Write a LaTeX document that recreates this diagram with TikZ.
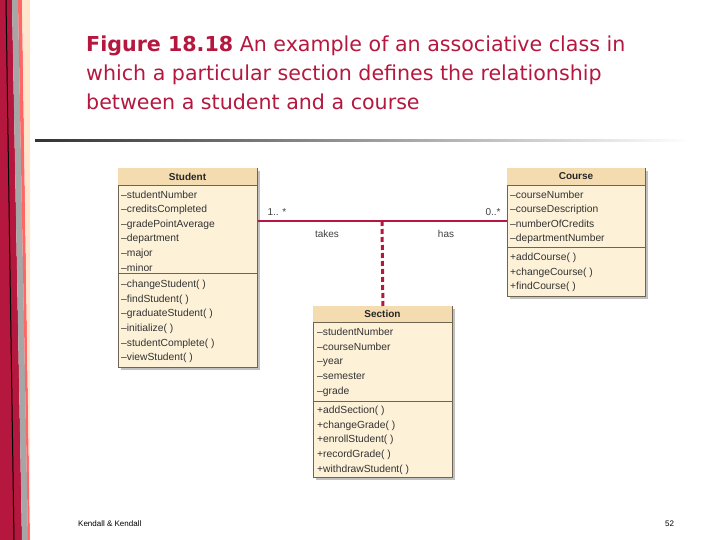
\documentclass[tikz,border=0pt]{standalone}
\usepackage{fontspec}
\setmainfont{Liberation Sans}
\newfontfamily\titlefont{DejaVu Sans}
\usetikzlibrary{shadows}
\definecolor{crim}{HTML}{B5173F}
\definecolor{cream}{HTML}{FDF1D8}
\definecolor{tan}{HTML}{F4DCB0}
\definecolor{edge}{HTML}{6E6452}
\begin{document}
\begin{tikzpicture}[x=1pt,y=-1pt,
  cls/.style={draw=edge,fill=cream,line width=0.8pt,anchor=north west,inner sep=0pt,
    drop shadow={shadow xshift=2.5pt,shadow yshift=-2.5pt,fill=gray!60,opacity=0.8}},
  row/.style={anchor=base west,inner sep=0pt,font=\fontsize{10.3}{11}\selectfont,text=black!80},
  ttl/.style={font=\bfseries\fontsize{10}{11}\selectfont,text=black!85},
  lbl/.style={font=\fontsize{10}{11}\selectfont,text=black!75}]
\useasboundingbox (0,0) rectangle (720,540);
% left decoration
\fill[crim] (0,0) -- (12,0) -- (22,540) -- (0,540) -- cycle;
\fill[gray!70] (12,0) -- (18,0) -- (28,540) -- (22,540) -- cycle;
\fill[red!60] (18,0) -- (22,0) -- (30,540) -- (28,540) -- cycle;
\fill[orange!20] (22,0) -- (30,0) -- (30,540) -- cycle;
\draw[black,line width=1pt] (6,0) -- (14,540);
% title
\node[anchor=north west,align=left,text=crim,inner sep=0pt,font=\titlefont\fontsize{20.6}{29}\selectfont] (title) at (86,36)
 {\textbf{Figure 18.18} An example of an associative class in\\which a particular section defines the relationship\\between a student and a course};
\shade[left color=black!80,right color=white] (35,139.5) rectangle (690,142);
% Student
\node[cls,minimum width=139pt,minimum height=199pt] (stu) at (118,168) {};
\fill[tan] (118.4,168.4) rectangle (256.6,185);
\draw[edge,line width=0.6pt] (118,185) -- (257,185) (118,273) -- (257,273);
\node[ttl] at (187.5,176.5) {Student};
\foreach \t [count=\i] in {studentNumber,creditsCompleted,gradePointAverage,department,major,minor}
  \node[row] at (121,183.5+\i*14.6) {--\t};
\foreach \t [count=\i] in {changeStudent( ),findStudent( ),graduateStudent( ),initialize( ),studentComplete( ),viewStudent( )}
  \node[row] at (121,273+\i*14.6) {--\t};
% Course
\node[cls,minimum width=138pt,minimum height=128pt] (crs) at (507,168) {};
\fill[tan] (507.4,168.4) rectangle (644.6,185);
\draw[edge,line width=0.6pt] (507,185) -- (645,185) (507,247) -- (645,247);
\node[ttl] at (576,176.5) {Course};
\foreach \t [count=\i] in {courseNumber,courseDescription,numberOfCredits,departmentNumber}
  \node[row] at (510,183.5+\i*14.6) {--\t};
\foreach \t [count=\i] in {addCourse( ),changeCourse( ),findCourse( )}
  \node[row] at (510,246+\i*14.6) {+\t};
% Section
\node[cls,minimum width=139pt,minimum height=171pt] (sec) at (313,306) {};
\fill[tan] (313.4,306.4) rectangle (451.6,322);
\draw[edge,line width=0.6pt] (313,322) -- (452,322) (313,401) -- (452,401);
\node[ttl] at (382.5,314) {Section};
\foreach \t [count=\i] in {studentNumber,courseNumber,year,semester,grade}
  \node[row] at (317,321+\i*14.6) {--\t};
\foreach \t [count=\i] in {addSection( ),changeGrade( ),enrollStudent( ),recordGrade( ),withdrawStudent( )}
  \node[row] at (317,399+\i*14.6) {+\t};
% association
\coordinate (mid) at (382,221);
\draw[crim,line width=2pt] (stu.north east |- mid) -- (crs.west |- mid);
\draw[crim,line width=3pt,dash pattern=on 5pt off 3pt] (mid) -- (sec.north);
\node[lbl] at (277,212) {1.. *};
\node[lbl] at (493,212) {0..*};
\node[lbl] at (327,234) {takes};
\node[lbl] at (446,234) {has};
% footer
\node[anchor=west,inner sep=0pt,font=\fontsize{8}{9}\selectfont] (f1) at (78,524) {Kendall \& Kendall};
\node[anchor=west,inner sep=0pt,font=\fontsize{8}{9}\selectfont] (f2) at (665,524) {52};
\end{tikzpicture}
\end{document}
